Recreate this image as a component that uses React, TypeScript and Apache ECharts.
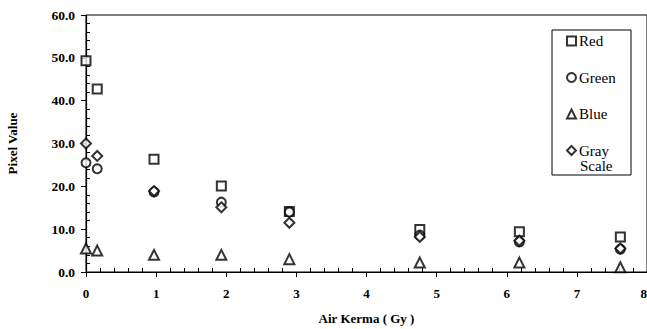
import React, { useEffect, useRef } from "react";
import * as echarts from "echarts";

const doses = [0, 0.16, 0.97, 1.93, 2.9, 4.76, 6.18, 7.62];
const redValues = [49.3, 42.7, 26.3, 20.1, 14.1, 9.9, 9.4, 8.2];
const greenValues = [25.5, 24.1, 18.7, 16.3, 14.0, 8.6, 7.0, 5.3];
const blueValues = [5.5, 5.0, 4.0, 4.0, 3.0, 2.2, 2.2, 1.1];
const grayValues = [30.0, 27.1, 18.9, 15.1, 11.5, 8.2, 7.3, 5.5];
const seriesNames = ["Red", "Green", "Blue", "Gray Scale"];
const seriesSymbols = ["emptyRect", "emptyCircle", "emptyTriangle", "emptyDiamond"];

const FONT = "'Liberation Serif', 'Times New Roman', serif";

export default function App() {
  const ref = useRef<HTMLDivElement>(null);
  useEffect(() => {
    if (!ref.current) return;
    const chart = echarts.init(ref.current, null, { renderer: "svg" });
    const values = [redValues, greenValues, blueValues, grayValues];
    const series = seriesNames.map((name, i) => ({
      name,
      type: "scatter",
      symbol: seriesSymbols[i],
      symbolSize: i === 2 ? 10 : i === 3 ? 10 : 9,
      itemStyle: { color: "#000", borderWidth: 1.5 },
      data: doses.map((d, j) => [d, values[i][j]]),
      z: 3,
    }));
    chart.setOption({
      animation: false,
      backgroundColor: "#fff",
      grid: {
        left: 86,
        top: 15,
        width: 561,
        height: 257,
        show: true,
        borderColor: "#000",
        borderWidth: 1,
        outerBoundsMode: "none",
        containLabel: false,
      },
      legend: {
        orient: "vertical",
        left: 566,
        top: 33,
        padding: 0,
        itemWidth: 9,
        itemHeight: 9,
        itemGap: 20.5,
        data: seriesNames,
        formatter: (n: string) => (n === "Gray Scale" ? "Gray" : n),
        textStyle: { fontFamily: FONT, fontSize: 15, color: "#000", lineHeight: 16, padding: [0, 0, 0, -2] },
        selectedMode: false,
        z: 6,
      },
      xAxis: [
        {
          type: "value",
          min: 0,
          max: 8,
          interval: 1,
          name: "Air Kerma ( Gy )",
          nameLocation: "middle",
          nameGap: 40,
          nameTextStyle: { fontFamily: FONT, fontSize: 13, fontWeight: "bold", color: "#000" },
          axisLine: { lineStyle: { color: "#000", width: 1.2 } },
          axisTick: { show: true, inside: false, length: 5, lineStyle: { color: "#000" } },
          axisLabel: {
            fontFamily: FONT,
            fontSize: 13,
            fontWeight: "bold",
            color: "#000",
            margin: 15,
            alignMaxLabel: "right",
          },
          splitLine: { show: false },
        },
        {
          type: "value",
          min: 0,
          max: 8,
          interval: 1,
          position: "bottom",
          offset: 0,
          axisLine: { show: false },
          axisTick: { show: false, inside: true },
          minorTick: { show: true, splitNumber: 5, length: 4, lineStyle: { color: "#000" } },
          axisLabel: { show: false },
          splitLine: { show: false },
        },
      ],
      yAxis: [
        {
          type: "value",
          min: 0,
          max: 60,
          interval: 10,
          name: "Pixel Value",
          nameLocation: "middle",
          nameGap: 67,
          nameTextStyle: { fontFamily: FONT, fontSize: 13, fontWeight: "bold", color: "#000" },
          axisLine: { lineStyle: { color: "#000", width: 1.2 } },
          axisTick: { show: true, inside: false, length: 5, lineStyle: { color: "#000" } },
          axisLabel: {
            fontFamily: FONT,
            fontSize: 13.5,
            fontWeight: "bold",
            color: "#000",
            margin: 11,
            formatter: (v: number) => v.toFixed(1),
          },
          splitLine: { show: false },
        },
        {
          type: "value",
          min: 0,
          max: 60,
          interval: 10,
          position: "left",
          offset: 0,
          axisLine: { show: false },
          axisTick: { show: false, inside: true },
          minorTick: { show: true, splitNumber: 5, length: 4, lineStyle: { color: "#000" } },
          axisLabel: { show: false },
          splitLine: { show: false },
        },
      ],
      graphic: [
        {
          type: "rect",
          shape: { x: 552, y: 30, width: 79, height: 145 },
          style: { fill: "#fff", stroke: "#000", lineWidth: 1 },
          z: 1,
        },
        {
          type: "text",
          x: 580,
          y: 166,
          style: { text: "Scale", font: `15px ${FONT}`, fill: "#000", textVerticalAlign: "middle" },
          z: 5,
        },
      ],
      series,
    });
    return () => chart.dispose();
  }, []);
  return <div ref={ref} style={{ width: 647, height: 329, position: "absolute", left: 0, top: 0 }} />;
}
